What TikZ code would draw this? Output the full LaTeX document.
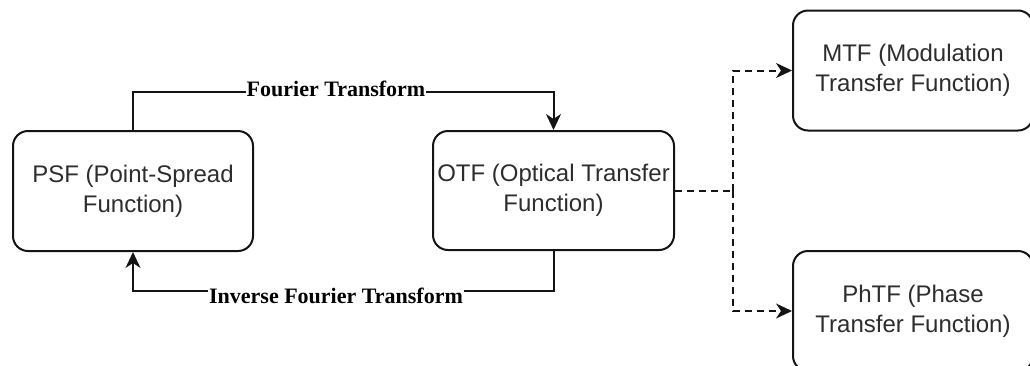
\documentclass[tikz,border=0pt]{standalone}
\usepackage{fontspec}
\setmainfont{Liberation Sans}
\newfontfamily\lblfont{Liberation Serif}
\usetikzlibrary{arrows.meta}
\definecolor{txt}{RGB}{45,45,45}
\definecolor{ln}{RGB}{20,20,20}
\begin{document}
\begin{tikzpicture}[x=1pt,y=-1pt,
  box/.style={draw=ln, line width=2pt, rounded corners=15pt, minimum width=240pt, minimum height=120pt, align=center, font=\fontsize{24}{30}\selectfont, text=txt, inner sep=0pt},
  conn/.style={line width=2pt, draw=ln},
  tip/.style={-{Stealth[length=16pt,width=15pt,inset=5pt]}},
  lbl/.style={fill=white, inner sep=1pt, font=\lblfont\bfseries\fontsize{22}{24}\selectfont, text=black},
  dsh/.style={dash pattern=on 7pt off 5pt}
]
\useasboundingbox (0,0) rectangle (1030,365);
\node[box] (psf) at (133,191) {PSF (Point-Spread\\Function)};
\node[box, minimum width=241pt, minimum height=119pt] (otf) at (553.5,190.5) {OTF (Optical Transfer\\Function)};
\node[box] (mtf) at (913,70.5) {MTF (Modulation\\Transfer Function)};
\node[box] (phtf) at (913,311) {PhTF (Phase\\Transfer Function)};

\coordinate (topy) at (0,92);
\coordinate (boty) at (0,291);
\draw[conn,tip] (psf.north) -- (psf.north |- topy) -| (otf.north);
\node[lbl] (ft) at (336,89) {Fourier Transform};
\draw[conn,tip] (otf.south) -- (otf.south |- boty) -| (psf.south);
\node[lbl] (ift) at (336,296) {Inverse Fourier Transform};

\coordinate (j) at (733,190.5);
\draw[conn,dsh] (otf.east) -- (j);
\draw[conn,dsh,tip] (j) |- (mtf.west);
\draw[conn,dsh,tip] (j) |- (phtf.west);
\end{tikzpicture}
\end{document}
